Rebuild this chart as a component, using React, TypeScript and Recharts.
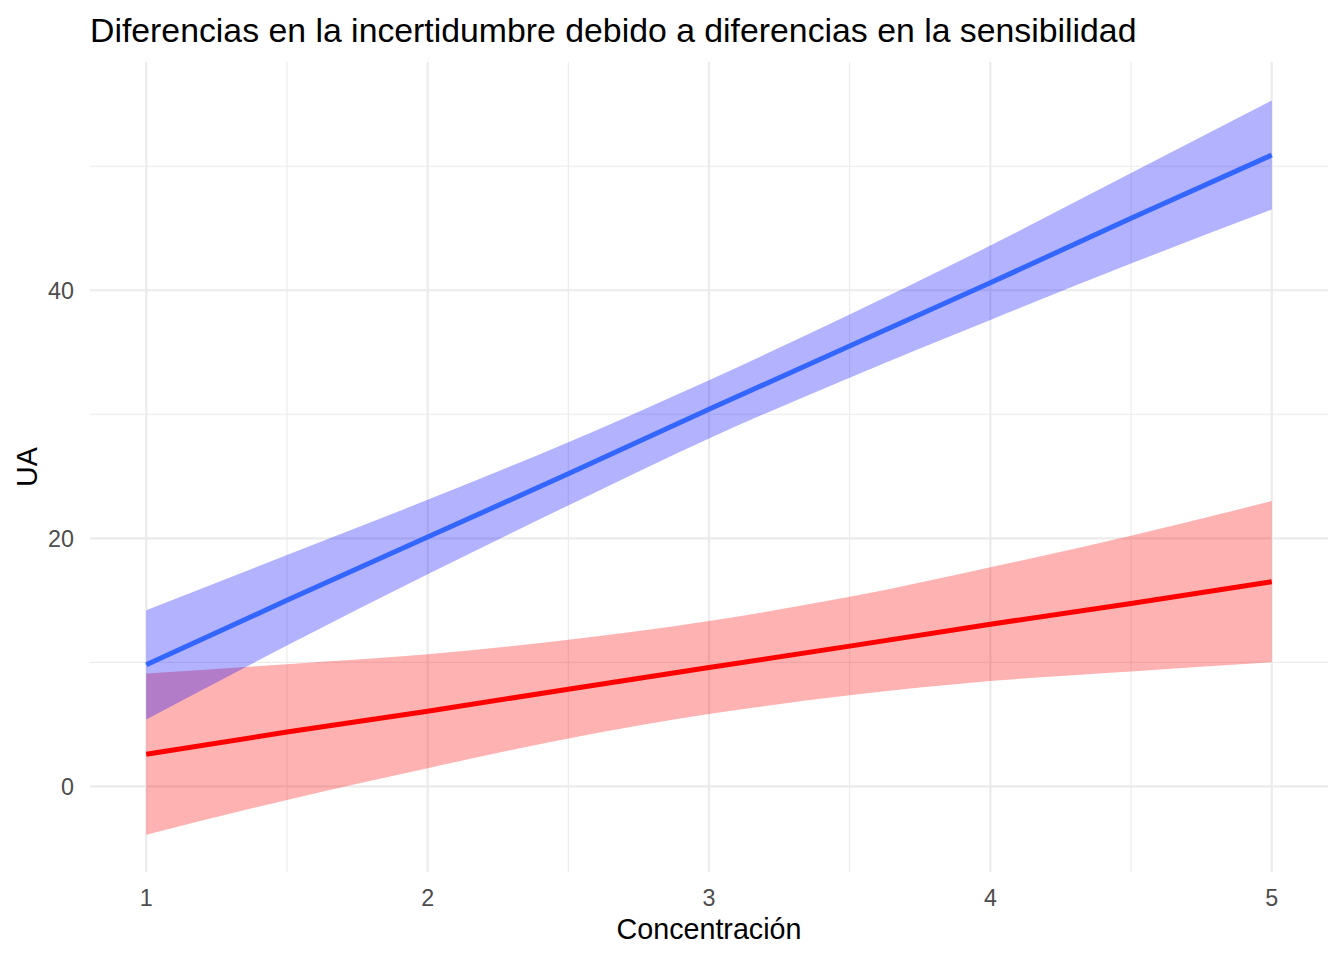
import React from 'react';
import {
  ComposedChart,
  Area,
  Line,
  XAxis,
  YAxis,
  CartesianGrid,
} from 'recharts';

// ---- data ----
const concentracion = [1, 1.5, 2, 2.5, 3, 3.5, 4, 4.5, 5];

const blueFit = [9.8, 15.0, 20.1, 25.2, 30.4, 35.5, 40.6, 45.8, 50.9];
const blueLower = [5.4, 11.35, 17.1, 22.65, 28.05, 32.95, 37.6, 42.15, 46.5];
const blueUpper = [14.2, 18.65, 23.1, 27.75, 32.75, 38.05, 43.6, 49.45, 55.3];

const redFit = [2.6, 4.38, 6.06, 7.84, 9.58, 11.31, 13.08, 14.74, 16.5];
const redLower = [-3.9, -1.09, 1.47, 3.86, 5.83, 7.34, 8.49, 9.27, 10.0];
const redUpper = [9.1, 9.85, 10.65, 11.82, 13.33, 15.28, 17.67, 20.21, 23.0];

const xMajorTicks = [1, 2, 3, 4, 5];
const xMinorTicks = [1.5, 2.5, 3.5, 4.5];
const yMajorTicks = [0, 20, 40];
const yMinorTicks = [10, 30, 50];

const xDomain = [0.8, 5.2];
const yDomain = [-6.9, 58.4];

const title = 'Diferencias en la incertidumbre debido a diferencias en la sensibilidad';
const xTitle = 'Concentración';
const yTitle = 'UA';

const data = concentracion.map((x, i) => ({
  x,
  blueFit: blueFit[i],
  blueBand: [blueLower[i], blueUpper[i]],
  redFit: redFit[i],
  redBand: [redLower[i], redUpper[i]],
}));

const FONT = '"Liberation Sans", Arial, Helvetica, sans-serif';
const TICK_SIZE = 23.3;
const TITLE_SIZE = 28.7;

const XTick = (props: any) => {
  const { x, y, payload } = props;
  return (
    <text x={x} y={y + 34} textAnchor="middle" fontSize={TICK_SIZE} fill="#4D4D4D" fontFamily={FONT}>
      {payload.value}
    </text>
  );
};

const YTick = (props: any) => {
  const { x, y, payload } = props;
  return (
    <text x={x - 16} y={y + 8.3} textAnchor="end" fontSize={TICK_SIZE} fill="#4D4D4D" fontFamily={FONT}>
      {payload.value}
    </text>
  );
};

const XLabel = (props: any) => {
  const vb = props.viewBox || {};
  const cx = vb.x + vb.width / 2;
  return (
    <text x={cx} y={vb.y + 67.3} textAnchor="middle" fontSize={TITLE_SIZE} fill="#000000" fontFamily={FONT}>
      {xTitle}
    </text>
  );
};

const YLabel = (props: any) => {
  const vb = props.viewBox || {};
  const cy = vb.y + vb.height / 2;
  const bx = 37;
  return (
    <text
      x={bx}
      y={cy}
      transform={`rotate(-90, ${bx}, ${cy})`}
      textAnchor="middle"
      fontSize={TITLE_SIZE}
      fill="#000000"
      fontFamily={FONT}
    >
      {yTitle}
    </text>
  );
};

export default function App() {
  return (
    <div
      style={{
        position: 'absolute',
        left: 0,
        top: 0,
        width: 1344,
        height: 960,
        background: '#FFFFFF',
        fontFamily: FONT,
      }}
    >
      <svg width={1344} height={60} style={{ position: 'absolute', left: 0, top: 0 }}>
        <text x={90} y={42} fontSize={33.8} fill="#000000" fontFamily={FONT}>
          {title}
        </text>
      </svg>
      <div style={{ position: 'absolute', left: 0, top: 0 }}>
        <ComposedChart
          width={1344}
          height={960}
          data={data}
          margin={{ top: 62, right: 16, bottom: 0, left: 0 }}
        >
          <XAxis
            xAxisId="minor"
            type="number"
            dataKey="x"
            domain={xDomain}
            ticks={xMinorTicks}
            interval={0}
            allowDataOverflow
            hide
          />
          <YAxis
            yAxisId="minor"
            type="number"
            domain={yDomain}
            ticks={yMinorTicks}
            interval={0}
            allowDataOverflow
            hide
          />
          <CartesianGrid xAxisId="minor" yAxisId="minor" stroke="#EBEBEB" strokeWidth={1.1} syncWithTicks />
          <CartesianGrid stroke="#EBEBEB" strokeWidth={2.2} syncWithTicks />
          <XAxis
            type="number"
            dataKey="x"
            domain={xDomain}
            ticks={xMajorTicks}
            interval={0}
            allowDataOverflow
            height={88}
            axisLine={false}
            tickLine={false}
            tickSize={0}
            tickMargin={0}
            tick={<XTick />}
            label={XLabel}
          />
          <YAxis
            type="number"
            domain={yDomain}
            ticks={yMajorTicks}
            interval={0}
            allowDataOverflow
            width={90}
            axisLine={false}
            tickLine={false}
            tickSize={0}
            tickMargin={0}
            tick={<YTick />}
            label={YLabel}
          />
          <Area
            dataKey="redBand"
            type="monotone"
            fill="#FF0000"
            fillOpacity={0.3}
            stroke="none"
            isAnimationActive={false}
            activeDot={false}
          />
          <Line
            dataKey="redFit"
            type="linear"
            stroke="#FF0000"
            strokeWidth={5}
            dot={false}
            activeDot={false}
            isAnimationActive={false}
          />
          <Area
            dataKey="blueBand"
            type="monotone"
            fill="#0000FF"
            fillOpacity={0.3}
            stroke="none"
            isAnimationActive={false}
            activeDot={false}
          />
          <Line
            dataKey="blueFit"
            type="linear"
            stroke="#3366FF"
            strokeWidth={5}
            dot={false}
            activeDot={false}
            isAnimationActive={false}
          />
        </ComposedChart>
      </div>
    </div>
  );
}
